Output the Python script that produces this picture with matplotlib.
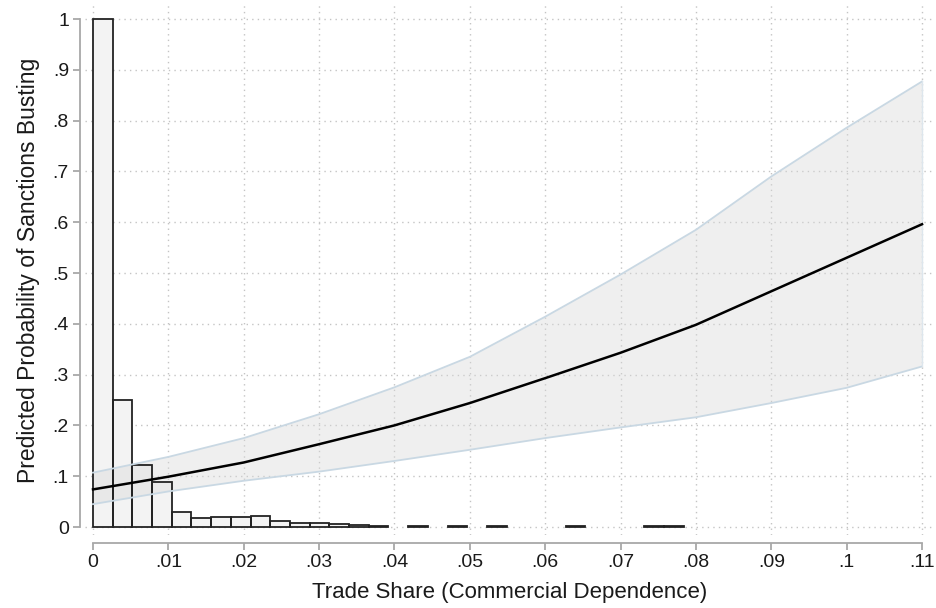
import matplotlib.pyplot as plt
import numpy as np

plt.rcParams['font.family'] = ['Liberation Sans', 'DejaVu Sans']

# histogram of trade share (scaled so the tallest bin is 1)
bin_width = 0.0784 / 30
bin_heights = [1.0, 0.25, 0.123, 0.089, 0.030, 0.018, 0.020, 0.019, 0.021, 0.011,
               0.008, 0.008, 0.005, 0.003, 0.001, 0.0, 0.002, 0.0, 0.002, 0.0,
               0.001, 0.0, 0.0, 0.0, 0.001, 0.0, 0.0, 0.0, 0.001, 0.001]

# predicted probability and 95% band
trade_share = [0, .01, .02, .03, .04, .05, .06, .07, .08, .09, .10, .11]
pred_prob = [.074, .099, .127, .163, .200, .244, .293, .343, .398, .464, .530, .596]
ci_upper = [.107, .138, .175, .222, .275, .335, .414, .497, .585, .690, .786, .877]
ci_lower = [.045, .070, .091, .109, .130, .152, .175, .196, .216, .244, .274, .316]

xticks = [0, .01, .02, .03, .04, .05, .06, .07, .08, .09, .10, .11]
xtick_labels = ['0', '.01', '.02', '.03', '.04', '.05', '.06', '.07', '.08', '.09', '.1', '.11']
yticks = [0, .1, .2, .3, .4, .5, .6, .7, .8, .9, 1]
ytick_labels = ['0', '.1', '.2', '.3', '.4', '.5', '.6', '.7', '.8', '.9', '1']

fig = plt.figure(figsize=(9.36, 6.08), dpi=100)
# plot region in pixels: x 85..935, y 5..535
ax = fig.add_axes([85 / 936, (608 - 535) / 608, 850 / 936, 530 / 608])

px_x = 829 / 0.11
ax.set_xlim(-8 / px_x, 0.11 + 13 / px_x)
ax.set_ylim(-8 / 508, 1 + 14 / 508)

# bars (skip empty bins); fill first, outlines on top of the band
lefts = np.arange(len(bin_heights)) * bin_width
heights = np.array(bin_heights)
keep = heights > 0
ax.bar(lefts[keep], heights[keep], width=bin_width, align='edge',
       facecolor='#f3f3f3', edgecolor='none', zorder=2)

# confidence band
ax.fill_between(trade_share, ci_lower, ci_upper, facecolor='#d8d8d8', alpha=0.4,
                edgecolor='none', zorder=3)

ax.bar(lefts[keep], heights[keep], width=bin_width, align='edge',
       facecolor='none', edgecolor='#222222', linewidth=1.3, zorder=3.5)

ax.plot(trade_share, ci_upper, color='#c9d8e3', linewidth=1.3, zorder=4)
ax.plot(trade_share, ci_lower, color='#c9d8e3', linewidth=1.3, zorder=4)
ax.plot([trade_share[-1]] * 2, [ci_lower[-1], ci_upper[-1]], color='#dde6ed',
        linewidth=1.0, zorder=4)

# predicted probability
ax.plot(trade_share, pred_prob, color='black', linewidth=1.8, zorder=5)

# grid
ax.set_axisbelow(True)
ax.grid(True, color='#c4c4c4', linestyle=(0, (1, 3)), linewidth=1.0)

ax.set_xticks(xticks)
ax.set_xticklabels(xtick_labels)
ax.set_yticks(yticks)
ax.set_yticklabels(ytick_labels)

for side in ['top', 'right']:
    ax.spines[side].set_visible(False)
ax.spines['left'].set_position(('outward', 3.6))
ax.spines['bottom'].set_position(('outward', 5.8))
ax.spines['left'].set_bounds(0, 1)
ax.spines['bottom'].set_bounds(0, 0.11)
for side in ['left', 'bottom']:
    ax.spines[side].set_color('#a8a8a8')
    ax.spines[side].set_linewidth(1.3)

ax.tick_params(axis='both', colors='#a8a8a8', length=5, width=1.3,
               labelsize=14, labelcolor='#1a1a1a', pad=3)

ax.set_xlabel('Trade Share (Commercial Dependence)', fontsize=16, color='#1a1a1a', labelpad=8)
ax.set_ylabel('Predicted Probability of Sanctions Busting', fontsize=16.5, color='#1a1a1a', labelpad=9)

plt.savefig('out.png', dpi=100)
